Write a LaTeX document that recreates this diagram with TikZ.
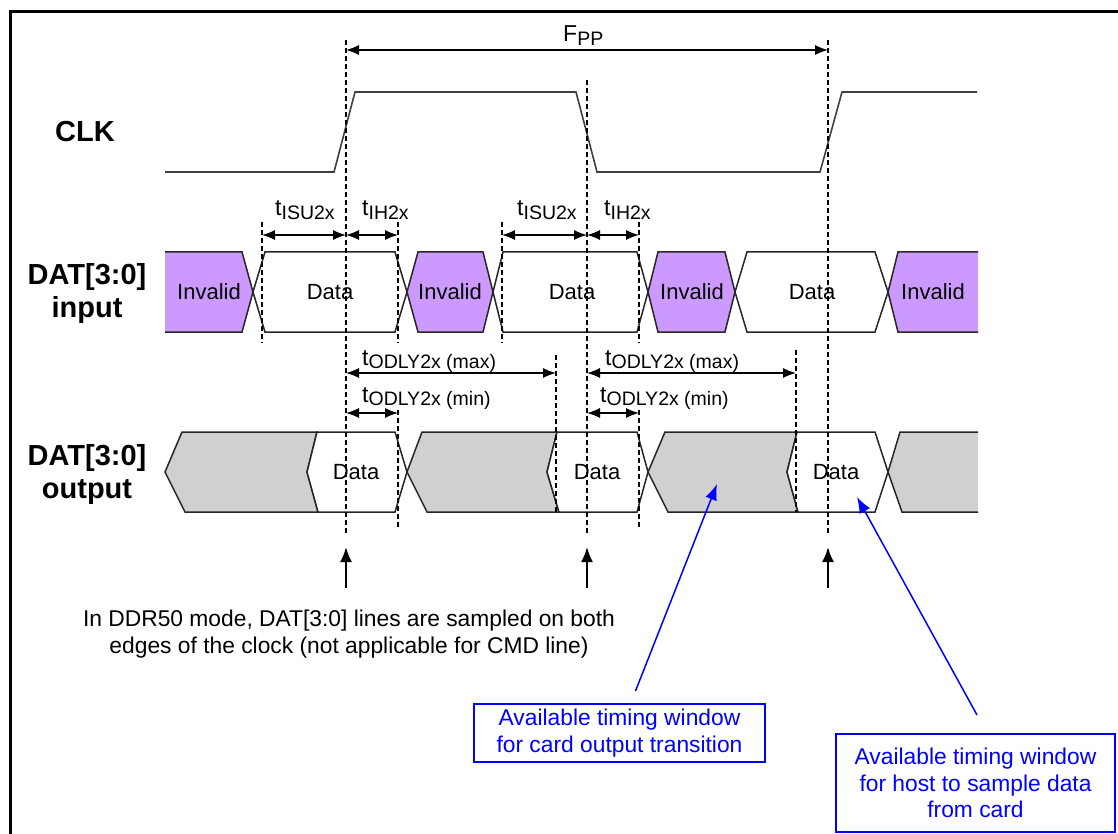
\documentclass[tikz,border=0pt]{standalone}
\usepackage{fontspec}
\setmainfont{Liberation Sans}
\usetikzlibrary{calc}
\usetikzlibrary{arrows.meta}
\definecolor{invalidfill}{RGB}{204,153,255}
\definecolor{busfill}{RGB}{208,208,208}
\definecolor{noteblue}{RGB}{0,0,255}
\newcommand{\tsub}[2]{#1\raisebox{-3.5pt}{\fontsize{19.5}{19.5}\selectfont #2}}
\tikzset{>={Latex[length=13pt,width=10pt]}}
\tikzset{signame/.style={font=\fontsize{29}{33}\selectfont\bfseries, align=center}}
\tikzset{clkline/.style={draw=black!75, line width=1.6pt}}
\tikzset{invalid/.style={draw=black!85, fill=invalidfill, line width=1.5pt}}
\tikzset{valid/.style={draw=black!85, fill=white, line width=1.5pt}}
\tikzset{bus/.style={draw=black!85, fill=busfill, line width=1.5pt}}
\tikzset{guide/.style={dash pattern=on 5pt off 3pt, line width=1.1pt}}
\tikzset{dim/.style={<->, line width=1.3pt}}
\tikzset{val/.style={font=\fontsize{22}{26}\selectfont}}
\tikzset{timing/.style={font=\fontsize{23}{26}\selectfont, anchor=base west, inner sep=0pt}}
\tikzset{sample/.style={->, line width=2pt, >={Latex[length=15pt,width=12pt]}}}
\tikzset{window/.style={draw=noteblue, line width=2pt, text=noteblue, align=center, font=\fontsize{22.8}{26.5}\selectfont}}
\tikzset{pointer/.style={->, draw=noteblue, line width=1.5pt, >={Latex[length=16pt,width=12pt]}}}

\begin{document}
\begin{tikzpicture}[x=1pt, y=-1pt]
    \useasboundingbox (0,0) rectangle (1118,834);
    % The border round the figure.
    \draw [line width=3pt] (10,834) -- (10,12) -- (1118,12);

    % Time marks and levels.
    \coordinate (rA) at (346,0);
    \coordinate (fB) at (587,0);
    \coordinate (rC) at (828,0);
    \coordinate (su0) at (262,0);
    \coordinate (ih0) at (398,0);
    \coordinate (su1) at (502,0);
    \coordinate (ih1) at (639,0);
    \coordinate (mx0) at (556,0);
    \coordinate (mx1) at (796,0);
    \coordinate (yFPP) at (0,50);
    \coordinate (ySU) at (0,235);
    \coordinate (yMAX) at (0,373);
    \coordinate (yMIN) at (0,413);

    % ------- Start CLK ------- %
    \node [signame] (clk) at (85,132) {CLK};
    \draw [clkline] (165,172) -- (334,172) -- (355,92) -- (576,92) -- (597,172)
        -- (820,172) -- (842,92) -- (977,92);
    % ------- End CLK ------- %

    % ------- Start DAT input ------- %
    \node [signame] (din) at (87,294) {DAT[3:0]\\input};
    \draw [invalid] (165,252) -- (242,252) -- (253,292) -- (242,332) -- (165,332);
    \draw [valid] (253,292) -- (265,252) -- (395,252) -- (407,292) -- (395,332) -- (265,332) -- cycle;
    \draw [invalid] (407,292) -- (418,252) -- (483,252) -- (493,292) -- (483,332) -- (418,332) -- cycle;
    \draw [valid] (493,292) -- (503,252) -- (637,252) -- (648,292) -- (637,332) -- (503,332) -- cycle;
    \draw [invalid] (648,292) -- (658,252) -- (725,252) -- (735,292) -- (725,332) -- (658,332) -- cycle;
    \draw [valid] (735,292) -- (747,252) -- (875,252) -- (888,292) -- (875,332) -- (747,332) -- cycle;
    \draw [invalid] (978,252) -- (898,252) -- (888,292) -- (898,332) -- (978,332);

    \node [val] (inv0) at (209,292) {Invalid};
    \node [val] (dat0) at (330,292) {Data};
    \node [val] (inv1) at (450,292) {Invalid};
    \node [val] (dat1) at (572,292) {Data};
    \node [val] (inv2) at (692,292) {Invalid};
    \node [val] (dat2) at (812,292) {Data};
    \node [val] (inv3) at (933,292) {Invalid};
    % ------- End DAT input ------- %

    % ------- Start DAT output ------- %
    \node [signame] (dout) at (87,474) {DAT[3:0]\\output};
    \draw [bus] (182,432) -- (317,432) -- (307,472) -- (318,512) -- (185,512) -- (165,472) -- cycle;
    \draw [valid] (307,472) -- (317,432) -- (395,432) -- (407,472) -- (395,512) -- (318,512) -- cycle;
    \draw [bus] (407,472) -- (422,432) -- (557,432) -- (547,472) -- (559,512) -- (427,512) -- cycle;
    \draw [valid] (547,472) -- (557,432) -- (637,432) -- (648,472) -- (637,512) -- (559,512) -- cycle;
    \draw [bus] (648,472) -- (665,432) -- (797,432) -- (787,472) -- (798,512) -- (668,512) -- cycle;
    \draw [valid] (787,472) -- (797,432) -- (875,432) -- (888,472) -- (875,512) -- (798,512) -- cycle;
    \draw [bus] (978,432) -- (900,432) -- (888,472) -- (902,512) -- (978,512);

    \node [val] (odat0) at (356,472) {Data};
    \node [val] (odat1) at (597,472) {Data};
    \node [val] (odat2) at (836,472) {Data};
    % ------- End DAT output ------- %

    % The dashed guide lines.
    \draw [guide] ($(rA)+(0,40)$) -- ($(rA)+(0,533)$);
    \draw [guide] ($(fB)+(0,80)$) -- ($(fB)+(0,533)$);
    \draw [guide] ($(rC)+(0,40)$) -- ($(rC)+(0,533)$);
    \draw [guide] ($(su0)+(0,222)$) -- ($(su0)+(0,343)$);
    \draw [guide] ($(ih0)+(0,222)$) -- ($(ih0)+(0,343)$);
    \draw [guide] ($(su1)+(0,222)$) -- ($(su1)+(0,343)$);
    \draw [guide] ($(ih1)+(0,222)$) -- ($(ih1)+(0,343)$);
    \draw [guide] ($(ih0)+(0,410)$) -- ($(ih0)+(0,528)$);
    \draw [guide] ($(ih1)+(0,410)$) -- ($(ih1)+(0,528)$);
    \draw [guide] ($(mx0)+(0,355)$) -- ($(mx0)+(0,512)$);
    \draw [guide] ($(mx1)+(0,350)$) -- ($(mx1)+(0,512)$);

    % The clock period.
    \draw [dim] (rA |- yFPP) -- (rC |- yFPP);
    \node [timing] (fpp) at (563,42) {\tsub{F}{PP}};

    % Setup and hold around each edge.
    \draw [dim] (su0 |- ySU) -- (rA |- ySU);
    \draw [dim] (rA |- ySU) -- (ih0 |- ySU);
    \draw [dim] (su1 |- ySU) -- (fB |- ySU);
    \draw [dim] (fB |- ySU) -- (ih1 |- ySU);
    \node [timing] (isu0) at (275,216) {\tsub{t}{ISU2x}};
    \node [timing] (ih0l) at (362,216) {\tsub{t}{IH2x}};
    \node [timing] (isu1) at (517,216) {\tsub{t}{ISU2x}};
    \node [timing] (ih1l) at (604,216) {\tsub{t}{IH2x}};

    % Output delay after each edge.
    \draw [dim] (rA |- yMAX) -- (mx0 |- yMAX);
    \draw [dim] (rA |- yMIN) -- (ih0 |- yMIN);
    \draw [dim] (fB |- yMAX) -- (mx1 |- yMAX);
    \draw [dim] (fB |- yMIN) -- (ih1 |- yMIN);
    \node [timing] (max0) at (362,365) {\tsub{t}{ODLY2x (max)}};
    \node [timing] (min0) at (362,402) {\tsub{t}{ODLY2x (min)}};
    \node [timing] (max1) at (605,365) {\tsub{t}{ODLY2x (max)}};
    \node [timing] (min1) at (600,402) {\tsub{t}{ODLY2x (min)}};

    % Sampling points.
    \draw [sample] ($(rA)+(0,588)$) -- ($(rA)+(0,547)$);
    \draw [sample] ($(fB)+(0,588)$) -- ($(fB)+(0,547)$);
    \draw [sample] ($(rC)+(0,588)$) -- ($(rC)+(0,547)$);
    \node [val, align=center, font=\fontsize{22.8}{26.7}\selectfont] (ddr) at (349,634)
        {In DDR50 mode, DAT[3:0] lines are sampled on both\\edges of the clock (not applicable for CMD line)};

    % The two notes and where they point.
    \node [window, minimum width=291pt, minimum height=58pt] (win0) at (619.5,733)
        {Available timing window\\for card output transition};
    \node [window, minimum width=279pt, minimum height=98pt] (win1) at (975.5,783)
        {Available timing window\\for host to sample data\\from card};
    \coordinate (gap0) at (717,484);
    \coordinate (dat2p) at (857,497);
    \draw [pointer] ($(win0.north)+(16,-12)$) -- (gap0);
    \draw [pointer] ($(win1.north)+(1.5,-18)$) -- (dat2p);
\end{tikzpicture}
\end{document}
